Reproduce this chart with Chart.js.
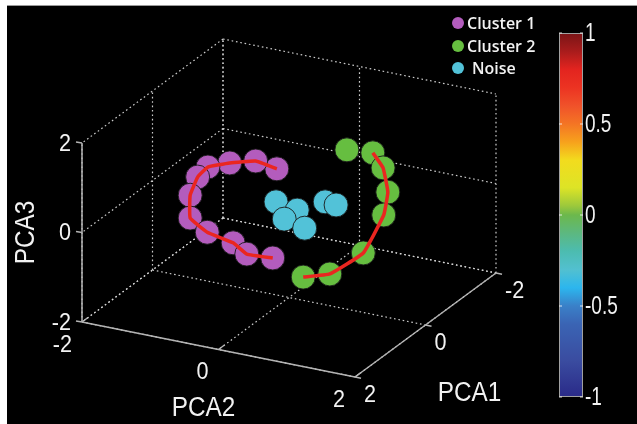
<!DOCTYPE html>
<html><head><meta charset="utf-8">
<script src="https://cdn.jsdelivr.net/npm/chart.js@4.4.1/dist/chart.umd.min.js"></script>
<style>
html,body{margin:0;padding:0;background:#fff;}
#wrap{position:relative;width:637px;height:424px;}
canvas{display:block;}
</style>
</head><body>
<div id="wrap"><canvas id="c" width="637" height="424"></canvas></div>
<script>
// ---------------- data ----------------
const seriesNames = ['Cluster 1', 'Cluster 2', 'Noise'];
const axisTitles = ['PCA1', 'PCA2', 'PCA3'];
const axisTicks = [-2, 0, 2];
const axisTickLabels = ['-2', '0', '2'];

// Cluster 1 (purple), ordered along the arc
const cluster1PCA1 = [0.5, 0.5, 0.5, 0.5, 0.5, 0.5, 0.5, 0.5, 0.5, 0.5, 0.5];
const cluster1PCA2 = [0.08, -0.23, -0.61, -0.93, -1.08, -1.19, -1.19, -0.94, -0.56, -0.36, 0.02];
const cluster1PCA3 = [1.19, 1.27, 1.11, 0.92, 0.65, 0.21, -0.30, -0.54, -0.66, -0.85, -0.82];

// Cluster 2 (green), ordered along the arc
const cluster2PCA1 = [-0.5, -0.5, -0.5, -0.5, -0.5, -0.5, -0.5, -0.5];
const cluster2PCA2 = [0.59, 0.97, 1.12, 1.19, 1.13, 0.83, 0.34, -0.05];
const cluster2PCA3 = [1.19, 1.24, 0.95, 0.43, -0.10, -1.04, -1.66, -1.85];

// Noise (cyan)
const noisePCA1 = [0, 0, 0, 0, 0, 0];
const noisePCA2 = [-0.19, 0.12, -0.07, 0.23, 0.53, 0.69];
const noisePCA3 = [0.08, -0.01, -0.27, -0.38, 0.30, 0.28];

// trajectories (indices of points joined by the red line)
const trajectory1 = [0, 1, 2, 3, 4, 5, 6, 7, 8, 9, 10];
const trajectory2 = [1, 2, 3, 4, 5, 6, 7];

// colour bar
const colorbarTicks = [-1, -0.5, 0, 0.5, 1];
const colorbarTickLabels = ['-1', '-0.5', '0', '0.5', '1'];
const colormapValues = [1.0, 0.9, 0.8, 0.7, 0.6, 0.5, 0.4, 0.3, 0.15, 0.05, 0.0, -0.1, -0.2, -0.3, -0.4, -0.5, -0.6, -0.8, -1.0];
const colormapColors = ['#7a1416', '#a81c1c', '#e3241f', '#ec3322', '#f0522a', '#f47524', '#f7a21c', '#f2dc1e', '#dde426', '#9cc83c', '#6cb84c', '#5cb880', '#4cbcb0', '#52c0d0', '#2cb6ee', '#3a80c8', '#3a64b4', '#3a4ca0', '#2a2a88'];

// ---------------- view (orthographic 3-D projection) ----------------
const VIEW = { ox: 289, oy: 208, u1: [-35.25, 26], u2: [68.25, 13.75], u3: [0, -44.75] };
function proj(p1, p2, p3) {
  return { x: VIEW.ox + p1 * VIEW.u1[0] + p2 * VIEW.u2[0] + p3 * VIEW.u3[0],
           y: VIEW.oy + p1 * VIEW.u1[1] + p2 * VIEW.u2[1] + p3 * VIEW.u3[1] };
}
const LO = axisTicks[0], HI = axisTicks[axisTicks.length - 1], MID = axisTicks[1];

function pts(a, b, c) { return a.map((v, i) => proj(a[i], b[i], c[i])); }

const datasets = [];
function trajData(idx, a, b, c) { return idx.map(i => proj(a[i], b[i], c[i])); }
datasets.push({ label: 'traj1', data: trajData(trajectory1, cluster1PCA1, cluster1PCA2, cluster1PCA3),
  showLine: true, borderColor: '#ea2620', borderWidth: 3.5, pointRadius: 0, tension: 0.1, order: 0 });
datasets.push({ label: 'traj2', data: trajData(trajectory2, cluster2PCA1, cluster2PCA2, cluster2PCA3),
  showLine: true, borderColor: '#ea2620', borderWidth: 3.5, pointRadius: 0, tension: 0.1, order: 0 });

const markerColors = ['#b35cbd', '#66be40', '#52c2d8'];
const series = [[cluster1PCA1, cluster1PCA2, cluster1PCA3], [cluster2PCA1, cluster2PCA2, cluster2PCA3], [noisePCA1, noisePCA2, noisePCA3]];
series.forEach((s, k) => {
  datasets.push({ label: seriesNames[k], data: pts(s[0], s[1], s[2]), showLine: false,
    pointRadius: 12, pointBackgroundColor: markerColors[k], pointBorderColor: 'rgba(25,25,25,0.9)',
    pointBorderWidth: 1, order: 1 + k });
});

// box grid lines (dotted) on floor (PCA3=LO), left wall (PCA2=LO), back wall (PCA1=LO)
const gridSegs = [];
axisTicks.forEach(t => {
  gridSegs.push([proj(t, LO, LO), proj(t, HI, LO)]);
  gridSegs.push([proj(LO, t, LO), proj(HI, t, LO)]);
  gridSegs.push([proj(t, LO, LO), proj(t, LO, HI)]);
  gridSegs.push([proj(LO, LO, t), proj(HI, LO, t)]);
  gridSegs.push([proj(LO, t, LO), proj(LO, t, HI)]);
  gridSegs.push([proj(LO, LO, t), proj(LO, HI, t)]);
});
gridSegs.forEach(seg => datasets.push({ label: 'grid', data: seg, showLine: true, borderColor: 'rgba(215,215,215,0.95)',
  borderWidth: 1.2, borderDash: [1.6, 2.8], pointRadius: 0, order: 20 }));

// solid axes
const axisSegs = [
  [proj(HI, LO, LO), proj(HI, LO, HI)],   // PCA3
  [proj(HI, LO, LO), proj(HI, HI, LO)],   // PCA2
  [proj(HI, HI, LO), proj(LO, HI, LO)]    // PCA1
];
axisSegs.forEach(seg => datasets.push({ label: 'axis', data: seg, showLine: true, borderColor: '#b4b4b4',
  borderWidth: 1.5, pointRadius: 0, order: 10 }));

// ---------------- plugins ----------------
function txt(ctx, s, x, y, font, align, sx) {
  ctx.save(); ctx.translate(x, y); ctx.scale(sx || 1, 1);
  ctx.font = font; ctx.textAlign = align; ctx.textBaseline = 'middle'; ctx.fillStyle = '#f2f2f2';
  ctx.fillText(s, 0, 0); ctx.restore();
}

const bgPlugin = {
  id: 'bg',
  beforeDraw(chart) {
    const ctx = chart.ctx;
    ctx.save();
    ctx.fillStyle = '#ffffff'; ctx.fillRect(0, 0, chart.width, chart.height);
    ctx.fillStyle = '#000000'; ctx.fillRect(7, 6, chart.width - 7, chart.height - 6);
    ctx.strokeStyle = '#9a9a9a'; ctx.lineWidth = 1;
    ctx.beginPath(); ctx.moveTo(7, 5.5); ctx.lineTo(chart.width, 5.5); ctx.stroke();
    ctx.restore();
  }
};

const decorPlugin = {
  id: 'decor',
  afterDraw(chart) {
    const ctx = chart.ctx, X = chart.scales.x, Y = chart.scales.y;
    const px = p => ({ x: X.getPixelForValue(p.x), y: Y.getPixelForValue(p.y) });
    const tickFont = '24px "Liberation Sans", Arial, sans-serif';
    ctx.save();
    ctx.strokeStyle = '#b4b4b4'; ctx.lineWidth = 1.5;
    const seg = (a, dx, dy) => { ctx.beginPath(); ctx.moveTo(a.x, a.y); ctx.lineTo(a.x + dx, a.y + dy); ctx.stroke(); };
    axisTicks.forEach((t, i) => {
      let a = px(proj(HI, LO, t));
      seg(a, -6, -1);
      txt(ctx, axisTickLabels[i], a.x - 11, a.y + 1, tickFont, 'right', 0.9);
      a = px(proj(HI, t, LO));
      seg(a, 6, -4.5);
      txt(ctx, axisTickLabels[i], a.x - 10, a.y + 23, tickFont, 'right', 0.9);
      a = px(proj(t, HI, LO));
      seg(a, 6, 1.2);
      txt(ctx, axisTickLabels[i], a.x + 9, a.y + 18, tickFont, 'left', 0.9);
    });
    const titleFont = '27px "Liberation Sans", Arial, sans-serif';
    const t1 = px(proj(MID, HI, LO)), t2 = px(proj(HI, MID, LO)), t3 = px(proj(HI, LO, MID));
    txt(ctx, axisTitles[0], t1.x + 44, t1.y + 69, titleFont, 'center', 0.9);
    txt(ctx, axisTitles[1], t2.x - 15, t2.y + 59, titleFont, 'center', 0.9);
    ctx.save(); ctx.translate(t3.x - 55, t3.y); ctx.rotate(-Math.PI / 2);
    txt(ctx, axisTitles[2], 0, 0, titleFont, 'center', 0.9);
    ctx.restore();

    // colour bar
    const cb = { left: 559, right: 583, top: 33, bottom: 397 };
    const vy = v => cb.bottom - (v - colorbarTicks[0]) / (colorbarTicks[colorbarTicks.length - 1] - colorbarTicks[0]) * (cb.bottom - cb.top);
    const g = ctx.createLinearGradient(0, cb.top, 0, cb.bottom);
    colormapValues.forEach((v, i) => g.addColorStop((vy(v) - cb.top) / (cb.bottom - cb.top), colormapColors[i]));
    ctx.fillStyle = g; ctx.fillRect(cb.left, cb.top, cb.right - cb.left, cb.bottom - cb.top);
    ctx.strokeStyle = '#a0a0a0'; ctx.lineWidth = 1;
    ctx.strokeRect(cb.left + 0.5, cb.top + 0.5, cb.right - cb.left - 1, cb.bottom - cb.top - 1);
    ctx.strokeStyle = 'rgba(255,255,255,0.8)';
    colorbarTicks.forEach((v, i) => {
      const y = vy(v);
      ctx.beginPath(); ctx.moveTo(cb.left, y); ctx.lineTo(cb.left + 3, y); ctx.moveTo(cb.right - 3, y); ctx.lineTo(cb.right, y); ctx.stroke();
      txt(ctx, colorbarTickLabels[i], cb.right + 2, y + 1, '25px "Liberation Sans", Arial, sans-serif', 'left', 0.76);
    });

    // legend
    const legY = [23, 46, 68];
    const legX = [467, 467, 472];
    seriesNames.forEach((n, k) => {
      ctx.beginPath(); ctx.arc(458, legY[k], 6, 0, Math.PI * 2); ctx.fillStyle = markerColors[k]; ctx.fill();
      txt(ctx, n, legX[k], legY[k] + 1.5, '600 16px "Open Sans", sans-serif', 'left', 1);
    });
    ctx.restore();
  }
};

new Chart(document.getElementById('c'), {
  type: 'scatter',
  data: { datasets },
  options: {
    responsive: false, animation: false, events: [],
    layout: { padding: 0, autoPadding: false },
    plugins: { legend: { display: false }, tooltip: { enabled: false } },
    scales: {
      x: { type: 'linear', min: 0, max: 637, display: false },
      y: { type: 'linear', min: 0, max: 424, reverse: true, display: false }
    }
  },
  plugins: [bgPlugin, decorPlugin]
});
</script>
</body></html>
